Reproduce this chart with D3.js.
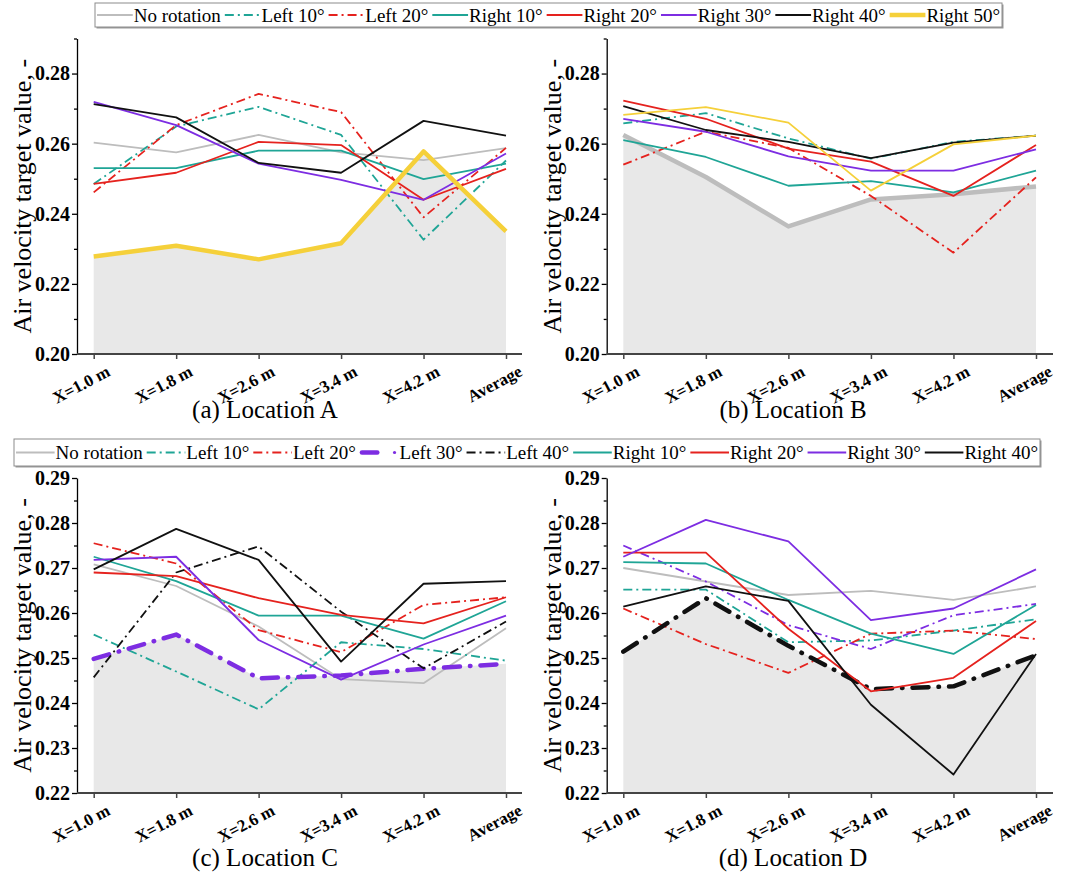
<!DOCTYPE html>
<html>
<head>
<meta charset="utf-8">
<script src="https://cdnjs.cloudflare.com/ajax/libs/d3/7.8.5/d3.min.js"></script>
<style>
  body { margin: 0; background: #fff; }
</style>
</head>
<body>
<svg id="chart" width="1070" height="878"></svg>
<script>
var positions = ["X=1.0 m", "X=1.8 m", "X=2.6 m", "X=3.4 m", "X=4.2 m", "Average"];

var seriesAB = ["No rotation", "Left 10°", "Left 20°", "Right 10°", "Right 20°", "Right 30°", "Right 40°", "Right 50°"];
var seriesCD = ["No rotation", "Left 10°", "Left 20°", "Left 30°", "Left 40°", "Right 10°", "Right 20°", "Right 30°", "Right 40°"];

// one row per series, in the order of seriesAB / seriesCD
var locationA = [
  [0.2603, 0.2575, 0.2625, 0.2575, 0.2553, 0.2587],
  [0.2485, 0.2649, 0.2705, 0.2625, 0.2326, 0.2552],
  [0.2461, 0.2653, 0.2742, 0.2690, 0.2390, 0.2588],
  [0.2530, 0.2530, 0.2580, 0.2580, 0.2499, 0.2543],
  [0.2485, 0.2517, 0.2605, 0.2596, 0.2440, 0.2528],
  [0.2719, 0.2653, 0.2543, 0.2497, 0.2440, 0.2572],
  [0.2713, 0.2675, 0.2545, 0.2517, 0.2665, 0.2623],
  [0.2278, 0.2309, 0.2270, 0.2316, 0.2578, 0.2350]
];
var locationB = [
  [0.2625, 0.2505, 0.2364, 0.2441, 0.2456, 0.2478],
  [0.2658, 0.2687, 0.2615, 0.2557, 0.2605, 0.2623],
  [0.2540, 0.2634, 0.2588, 0.2451, 0.2289, 0.2504],
  [0.2610, 0.2562, 0.2480, 0.2493, 0.2461, 0.2523],
  [0.2723, 0.2671, 0.2586, 0.2549, 0.2451, 0.2596],
  [0.2671, 0.2634, 0.2564, 0.2523, 0.2523, 0.2584],
  [0.2707, 0.2639, 0.2605, 0.2559, 0.2603, 0.2623],
  [0.2682, 0.2704, 0.2660, 0.2466, 0.2598, 0.2623]
];
var locationC = [
  [0.2708, 0.2660, 0.2570, 0.2453, 0.2444, 0.2566],
  [0.2552, 0.2470, 0.2386, 0.2535, 0.2520, 0.2494],
  [0.2755, 0.2710, 0.2562, 0.2513, 0.2618, 0.2635],
  [0.2498, 0.2552, 0.2455, 0.2461, 0.2476, 0.2487],
  [0.2457, 0.2690, 0.2748, 0.2603, 0.2477, 0.2581],
  [0.2725, 0.2671, 0.2594, 0.2594, 0.2543, 0.2626],
  [0.2690, 0.2682, 0.2633, 0.2596, 0.2577, 0.2635],
  [0.2718, 0.2725, 0.2540, 0.2452, 0.2530, 0.2594],
  [0.2697, 0.2787, 0.2718, 0.2492, 0.2665, 0.2671]
];
var locationD = [
  [0.2700, 0.2670, 0.2640, 0.2649, 0.2629, 0.2659],
  [0.2652, 0.2652, 0.2535, 0.2539, 0.2561, 0.2586],
  [0.2610, 0.2531, 0.2467, 0.2554, 0.2561, 0.2542],
  [0.2750, 0.2670, 0.2573, 0.2520, 0.2595, 0.2620],
  [0.2514, 0.2633, 0.2527, 0.2431, 0.2437, 0.2506],
  [0.2713, 0.2710, 0.2629, 0.2554, 0.2509, 0.2618],
  [0.2734, 0.2734, 0.2565, 0.2426, 0.2456, 0.2582],
  [0.2725, 0.2807, 0.2759, 0.2584, 0.2610, 0.2697],
  [0.2614, 0.2659, 0.2627, 0.2396, 0.2241, 0.2509]
];

var yTicksAB = [0.20, 0.22, 0.24, 0.26, 0.28];
var yMinorAB = [0.21, 0.23, 0.25, 0.27, 0.29];
var yTicksCD = [0.22, 0.23, 0.24, 0.25, 0.26, 0.27, 0.28, 0.29];
var yMinorCD = [0.225, 0.235, 0.245, 0.255, 0.265, 0.275, 0.285];

var colorOf = {
  "No rotation": "#bdbdbd",
  "Left 10°": "#1fa596", "Right 10°": "#1fa596",
  "Left 20°": "#e5221e", "Right 20°": "#e5221e",
  "Left 30°": "#7d2de2", "Right 30°": "#7d2de2",
  "Left 40°": "#111111", "Right 40°": "#111111",
  "Right 50°": "#f5d03a"
};

var serif = "'Liberation Serif'";
var svg = d3.select("#chart");

var panels = [
  { series: seriesAB, values: locationA, base: "Right 50°", ticks: yTicksAB, minor: yMinorAB,
    domain: [0.20, 0.29], axisX: 77, x0: 93.7, x1: 506, xEnd: 522, top: 38.5, bottom: 354,
    caption: "(a) Location A", capX: 265, capY: 418 },
  { series: seriesAB, values: locationB, base: "No rotation", ticks: yTicksAB, minor: yMinorAB,
    domain: [0.20, 0.29], axisX: 606.7, x0: 623.3, x1: 1036, xEnd: 1053, top: 38.5, bottom: 354,
    caption: "(b) Location B", capX: 793, capY: 418 },
  { series: seriesCD, values: locationC, base: "Left 30°", ticks: yTicksCD, minor: yMinorCD,
    domain: [0.22, 0.29], axisX: 77, x0: 93.7, x1: 506, xEnd: 522, top: 478, bottom: 793,
    caption: "(c) Location C", capX: 265, capY: 866 },
  { series: seriesCD, values: locationD, base: "Left 40°", ticks: yTicksCD, minor: yMinorCD,
    domain: [0.22, 0.29], axisX: 606.7, x0: 623.3, x1: 1036, xEnd: 1053, top: 478, bottom: 793,
    caption: "(d) Location D", capX: 793, capY: 866 }
];

function styleLine(sel, name, thick) {
  var dashed = name.indexOf("Left") === 0;
  sel.attr("fill", "none")
    .attr("stroke", colorOf[name])
    .attr("stroke-width", thick ? 4.5 : 1.8)
    .attr("stroke-linejoin", "round");
  if (dashed) {
    if (thick) sel.attr("stroke-dasharray", "16,10,0.5,10").attr("stroke-linecap", "round");
    else sel.attr("stroke-dasharray", "9,4,2,4");
  }
  return sel;
}

panels.forEach(function(p) {
  var g = svg.append("g");
  var x = d3.scalePoint().domain(positions).range([p.x0, p.x1]);
  var y = d3.scaleLinear().domain(p.domain).range([p.bottom, p.top]);

  var baseIdx = p.series.indexOf(p.base);

  // shaded area under the highlighted series
  g.append("path")
    .datum(p.values[baseIdx])
    .attr("fill", "#e8e8e8")
    .attr("d", d3.area()
      .x(function(d, i) { return x(positions[i]); })
      .y0(y(p.domain[0]))
      .y1(function(d) { return y(d); }));

  var line = d3.line()
    .x(function(d, i) { return x(positions[i]); })
    .y(function(d) { return y(d); });

  p.series.forEach(function(name, k) {
    g.append("path").datum(p.values[k]).attr("d", line)
      .call(styleLine, name, name === p.base);
  });

  // y axis
  var yAxis = g.append("g")
    .attr("transform", "translate(" + p.axisX + ",0)")
    .call(d3.axisLeft(y).tickValues(p.ticks).tickFormat(d3.format(".2f")).tickSize(5).tickSizeOuter(0));
  yAxis.select(".domain").attr("stroke", "#000").attr("stroke-width", 1.3);
  yAxis.selectAll(".tick line").attr("stroke-width", 1.3);
  yAxis.selectAll(".tick text")
    .attr("x", -7)
    .style("font-family", serif)
    .attr("font-size", 20)
    .attr("font-weight", "bold")
    .attr("fill", "#000");
  var yMinor = g.append("g")
    .attr("transform", "translate(" + p.axisX + ",0)")
    .call(d3.axisLeft(y).tickValues(p.minor).tickFormat("").tickSize(3).tickSizeOuter(0));
  yMinor.select(".domain").remove();
  yMinor.selectAll(".tick line").attr("stroke-width", 1.3);

  // x axis
  var xAxis = g.append("g")
    .attr("transform", "translate(0," + p.bottom + ")")
    .call(d3.axisBottom(x).tickSize(5).tickSizeOuter(0));
  xAxis.select(".domain").remove();
  xAxis.append("line")
    .attr("x1", p.axisX).attr("x2", p.xEnd)
    .attr("stroke", "#444").attr("stroke-width", 1.8);
  xAxis.selectAll(".tick line").attr("stroke", "#444").attr("stroke-width", 1.5);
  xAxis.selectAll(".tick text")
    .style("font-family", serif)
    .attr("font-size", 17)
    .attr("font-weight", "bold")
    .attr("fill", "#000")
    .attr("text-anchor", "end")
    .attr("y", 0).attr("dy", 0)
    .attr("transform", "translate(17,21) rotate(-28)");

  // axis title
  var midY = (p.top + p.bottom) / 2;
  g.append("text")
    .attr("transform", "translate(" + (p.axisX - 46) + "," + midY + ") rotate(-90)")
    .attr("text-anchor", "middle")
    .style("font-family", serif)
    .attr("font-size", 26)
    .text("Air velocity target value, -");

  g.append("text")
    .attr("x", p.capX)
    .attr("y", p.capY)
    .attr("text-anchor", "middle")
    .style("font-family", serif)
    .attr("font-size", 25)
    .text(p.caption);
});

function drawLegend(names, thickName, bx, by, bw, bh) {
  var g = svg.append("g");
  g.append("rect").attr("x", bx + 1.5).attr("y", by + 1.5).attr("width", bw).attr("height", bh)
    .attr("fill", "#9a9a9a");
  g.append("rect").attr("x", bx).attr("y", by).attr("width", bw).attr("height", bh)
    .attr("fill", "#fff").attr("stroke", "#8c8c8c").attr("stroke-width", 1);

  var cy = by + bh / 2;
  var labels = names.map(function(n) {
    return g.append("text").style("font-family", serif).attr("font-size", 19)
      .attr("dy", "0.35em").attr("y", cy).text(n);
  });
  var widths = labels.map(function(t) { return t.node().getComputedTextLength(); });
  var textGap = 1, itemGap = 4, pad = 2;
  var sample = (bw - 2 * pad - d3.sum(widths) - names.length * (textGap + itemGap) + itemGap) / names.length;

  var cx = bx + pad;
  names.forEach(function(n, i) {
    var thick = n === thickName;
    if (thick && n.indexOf("Left") === 0) {
      g.append("line").attr("x1", cx + 2).attr("x2", cx + sample * 0.45).attr("y1", cy).attr("y2", cy)
        .attr("stroke", colorOf[n]).attr("stroke-width", 4.5).attr("stroke-linecap", "round");
      g.append("circle").attr("cx", cx + sample - 4).attr("cy", cy).attr("r", 1.6).attr("fill", colorOf[n]);
    } else {
      g.append("path").attr("d", "M" + cx + "," + cy + "H" + (cx + sample))
        .call(styleLine, n, thick);
    }
    labels[i].attr("x", cx + sample + textGap);
    cx += sample + textGap + widths[i] + itemGap;
  });
}

drawLegend(seriesAB, "Right 50°", 95, 3, 907, 24);
drawLegend(seriesCD, "Left 30°", 14, 439, 1026, 27);
</script>
</body>
</html>
